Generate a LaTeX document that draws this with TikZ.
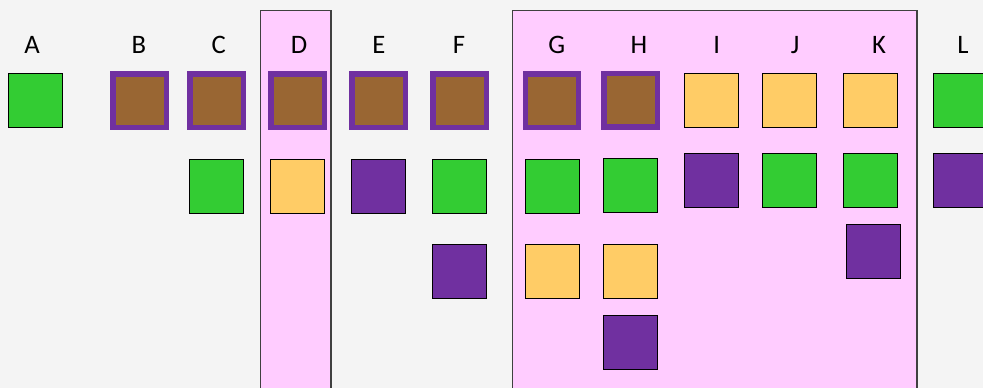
\documentclass[tikz,border=0pt]{standalone}
\usepackage{fontspec}
\setmainfont{Carlito}
\definecolor{bgc}{HTML}{F4F4F4}
\definecolor{pinkc}{HTML}{FFCCFF}
\definecolor{greenc}{HTML}{33CC33}
\definecolor{yellowc}{HTML}{FFCC66}
\definecolor{purplec}{HTML}{7030A0}
\definecolor{brownc}{HTML}{996633}
\definecolor{framec}{HTML}{404040}
\tikzset{
  sq/.style={draw=black, line width=0.75pt, minimum size=40.5pt, inner sep=0pt, outer sep=0pt},
  gsq/.style={sq, fill=greenc},
  ysq/.style={sq, fill=yellowc},
  psq/.style={sq, fill=purplec},
  bsq/.style={draw=purplec, line width=4pt, fill=brownc, minimum size=40pt, inner sep=0pt, outer sep=0pt},
  lbl/.style={anchor=base, font=\fontsize{20}{24}\selectfont, inner sep=0pt},
  band/.style={draw=framec, line width=0.9pt, fill=pinkc}
}
\begin{document}
\begin{tikzpicture}[x=0.75pt,y=-0.75pt]
\fill[bgc] (0,0) rectangle (983,388);
\useasboundingbox (0,0) rectangle (983,388);
% pink bands
\draw[band] (260.5,395) -- (260.5,10.7) -- (331,10.7) -- (331,395);
\draw[band] (512.7,395) -- (512.7,10.7) -- (917,10.7) -- (917,395);
% labels
\node[lbl] (lA) at (32,54) {A};
\node[lbl] (lB) at (139,54) {B};
\node[lbl] (lC) at (218.7,54) {C};
\node[lbl] (lD) at (299,54) {D};
\node[lbl] (lE) at (379,54) {E};
\node[lbl] (lF) at (459,54) {F};
\node[lbl] (lG) at (556.7,54) {G};
\node[lbl] (lH) at (639,54) {H};
\node[lbl] (lI) at (716.7,54) {I};
\node[lbl] (lJ) at (795,54) {J};
\node[lbl] (lK) at (879,54) {K};
\node[lbl] (lL) at (963,54) {L};
% row 1
\node[gsq] (a1) at (35,100.7) {};
\node[bsq] (b1) at (139.7,100.7) {};
\node[bsq] (c1) at (216.8,100.7) {};
\node[bsq] (d1) at (297.5,100.7) {};
\node[bsq] (e1) at (378.5,100.7) {};
\node[bsq] (f1) at (459.5,100.7) {};
\node[bsq] (g1) at (552,100.7) {};
\node[bsq] (h1) at (630.7,100.4) {};
\node[ysq] (i1) at (711.5,100.3) {};
\node[ysq] (j1) at (789.3,100.3) {};
\node[ysq] (k1) at (870.3,100.3) {};
\node[gsq] (l1) at (960.7,100.3) {};
% row 2
\node[gsq] (c2) at (216.7,186.3) {};
\node[ysq] (d2) at (297.5,186.3) {};
\node[psq] (e2) at (378,186.3) {};
\node[gsq] (f2) at (459,186.3) {};
\node[gsq] (g2) at (552,186.3) {};
\node[gsq] (h2) at (630.7,186) {};
\node[psq] (i2) at (711.5,181) {};
\node[gsq] (j2) at (789.3,181) {};
\node[gsq] (k2) at (870.3,181) {};
\node[psq] (l2) at (960.7,181) {};
% row 3
\node[psq] (f3) at (459,272) {};
\node[ysq] (g3) at (552,272) {};
\node[ysq] (h3) at (630.7,271.5) {};
\node[psq] (k3) at (873,251.7) {};
% row 4
\node[psq] (h4) at (630.7,342.5) {};
\end{tikzpicture}
\end{document}
